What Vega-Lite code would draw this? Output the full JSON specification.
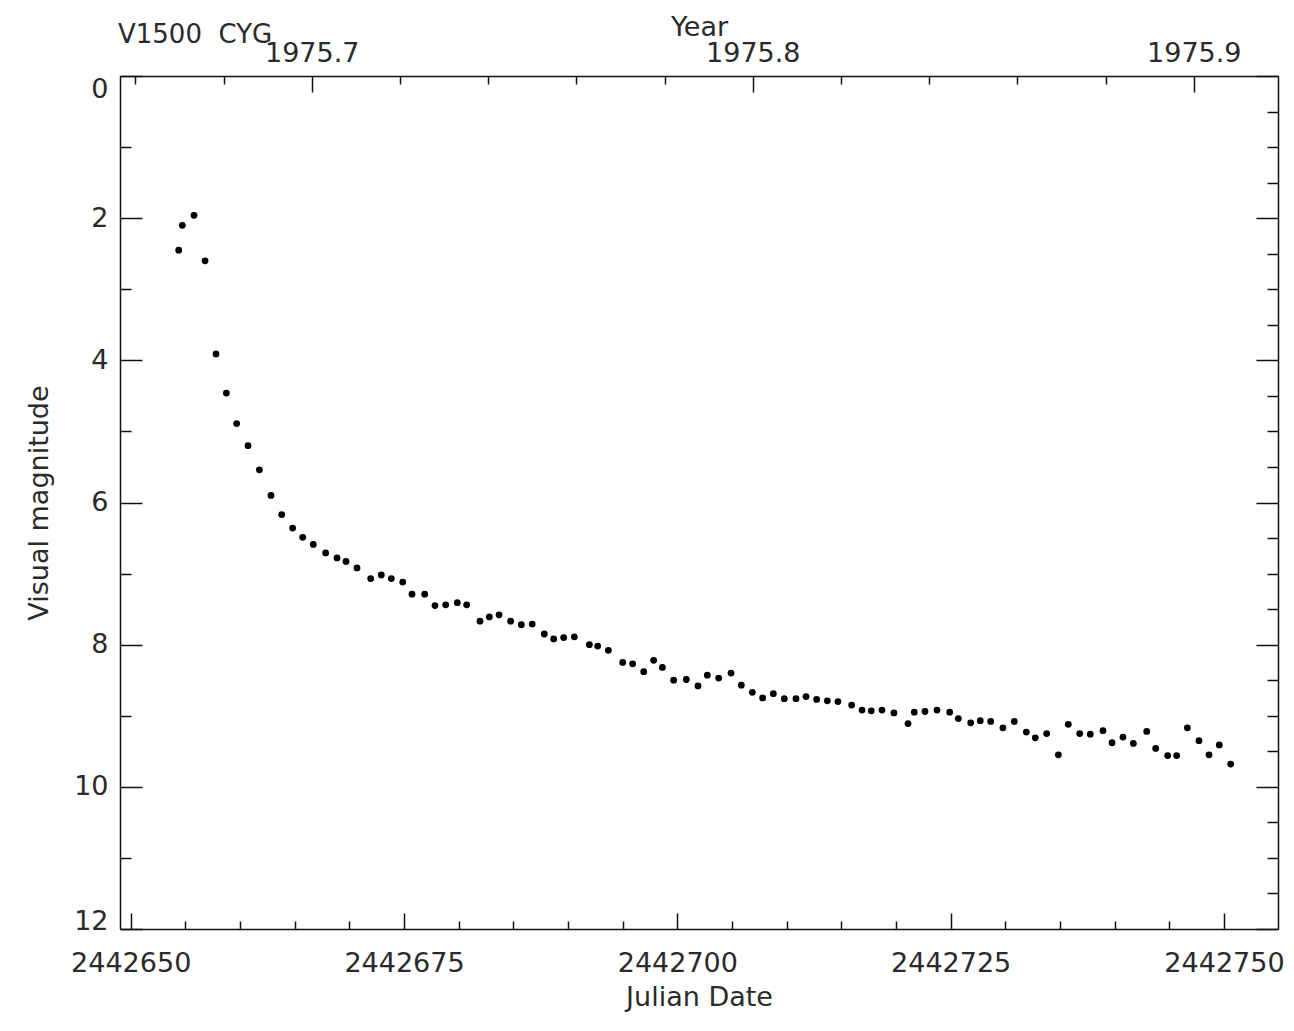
{
  "$schema": "https://vega.github.io/schema/vega-lite/v6.json",
  "width": 1158,
  "height": 853,
  "autosize": {"type": "none"},
  "padding": {"left": 120, "top": 76, "right": 16, "bottom": 102},
  "background": "white",
  "config": {
    "view": {"stroke": null},
    "axis": {
      "labelFont": "DejaVu Sans",
      "titleFont": "DejaVu Sans",
      "labelFontSize": 27,
      "titleFontSize": 27,
      "labelColor": "#2a2a2a",
      "titleColor": "#2a2a2a",
      "titleFontWeight": "normal",
      "domainColor": "#111",
      "domainWidth": 1.5,
      "tickColor": "#111",
      "tickWidth": 1.5,
      "grid": false,
      "labelOverlap": false,
      "labelFlush": false,
      "labelBound": false
    }
  },
  "title": {
    "text": "V1500\u00a0 CYG",
    "anchor": "start",
    "frame": "group",
    "font": "DejaVu Sans",
    "fontSize": 26,
    "fontWeight": "normal",
    "color": "#2a2a2a",
    "offset": -35,
    "dx": -2
  },
  "layer": [
    {
      "data": {
        "values": [
          {"jd": 2442654.39, "mag": 2.45},
          {"jd": 2442654.72, "mag": 2.10},
          {"jd": 2442655.79, "mag": 1.96},
          {"jd": 2442656.80, "mag": 2.60},
          {"jd": 2442657.80, "mag": 3.91},
          {"jd": 2442658.75, "mag": 4.46},
          {"jd": 2442659.69, "mag": 4.89},
          {"jd": 2442660.73, "mag": 5.20},
          {"jd": 2442661.77, "mag": 5.54},
          {"jd": 2442662.83, "mag": 5.90},
          {"jd": 2442663.81, "mag": 6.17},
          {"jd": 2442664.81, "mag": 6.36},
          {"jd": 2442665.73, "mag": 6.49},
          {"jd": 2442666.70, "mag": 6.59},
          {"jd": 2442667.83, "mag": 6.71},
          {"jd": 2442668.87, "mag": 6.78},
          {"jd": 2442669.69, "mag": 6.83},
          {"jd": 2442670.70, "mag": 6.92},
          {"jd": 2442671.95, "mag": 7.07},
          {"jd": 2442672.92, "mag": 7.02},
          {"jd": 2442673.84, "mag": 7.07},
          {"jd": 2442674.88, "mag": 7.12},
          {"jd": 2442675.73, "mag": 7.29},
          {"jd": 2442676.89, "mag": 7.29},
          {"jd": 2442677.83, "mag": 7.45},
          {"jd": 2442678.81, "mag": 7.44},
          {"jd": 2442679.87, "mag": 7.41},
          {"jd": 2442680.73, "mag": 7.44},
          {"jd": 2442681.95, "mag": 7.67},
          {"jd": 2442682.80, "mag": 7.61},
          {"jd": 2442683.69, "mag": 7.58},
          {"jd": 2442684.75, "mag": 7.67},
          {"jd": 2442685.73, "mag": 7.72},
          {"jd": 2442686.73, "mag": 7.71},
          {"jd": 2442687.83, "mag": 7.85},
          {"jd": 2442688.69, "mag": 7.92},
          {"jd": 2442689.60, "mag": 7.90},
          {"jd": 2442690.58, "mag": 7.89},
          {"jd": 2442691.95, "mag": 8.00},
          {"jd": 2442692.71, "mag": 8.02},
          {"jd": 2442693.69, "mag": 8.08},
          {"jd": 2442695.00, "mag": 8.25},
          {"jd": 2442695.91, "mag": 8.27},
          {"jd": 2442696.92, "mag": 8.38},
          {"jd": 2442697.83, "mag": 8.22},
          {"jd": 2442698.63, "mag": 8.32},
          {"jd": 2442699.66, "mag": 8.50},
          {"jd": 2442700.82, "mag": 8.49},
          {"jd": 2442701.89, "mag": 8.58},
          {"jd": 2442702.74, "mag": 8.43},
          {"jd": 2442703.78, "mag": 8.47},
          {"jd": 2442704.91, "mag": 8.40},
          {"jd": 2442705.85, "mag": 8.57},
          {"jd": 2442706.86, "mag": 8.67},
          {"jd": 2442707.80, "mag": 8.75},
          {"jd": 2442708.78, "mag": 8.69},
          {"jd": 2442709.78, "mag": 8.76},
          {"jd": 2442710.85, "mag": 8.76},
          {"jd": 2442711.77, "mag": 8.73},
          {"jd": 2442712.74, "mag": 8.77},
          {"jd": 2442713.72, "mag": 8.79},
          {"jd": 2442714.69, "mag": 8.80},
          {"jd": 2442715.94, "mag": 8.85},
          {"jd": 2442716.89, "mag": 8.92},
          {"jd": 2442717.74, "mag": 8.93},
          {"jd": 2442718.72, "mag": 8.92},
          {"jd": 2442719.81, "mag": 8.96},
          {"jd": 2442721.10, "mag": 9.11},
          {"jd": 2442721.67, "mag": 8.95},
          {"jd": 2442722.65, "mag": 8.94},
          {"jd": 2442723.75, "mag": 8.92},
          {"jd": 2442724.91, "mag": 8.95},
          {"jd": 2442725.70, "mag": 9.04},
          {"jd": 2442726.83, "mag": 9.10},
          {"jd": 2442727.71, "mag": 9.07},
          {"jd": 2442728.66, "mag": 9.08},
          {"jd": 2442729.78, "mag": 9.17},
          {"jd": 2442730.82, "mag": 9.08},
          {"jd": 2442731.92, "mag": 9.23},
          {"jd": 2442732.74, "mag": 9.31},
          {"jd": 2442733.78, "mag": 9.25},
          {"jd": 2442734.85, "mag": 9.55},
          {"jd": 2442735.76, "mag": 9.12},
          {"jd": 2442736.80, "mag": 9.25},
          {"jd": 2442737.77, "mag": 9.26},
          {"jd": 2442738.93, "mag": 9.21},
          {"jd": 2442739.76, "mag": 9.38},
          {"jd": 2442740.76, "mag": 9.30},
          {"jd": 2442741.71, "mag": 9.39},
          {"jd": 2442742.93, "mag": 9.22},
          {"jd": 2442743.75, "mag": 9.46},
          {"jd": 2442744.85, "mag": 9.56},
          {"jd": 2442745.67, "mag": 9.56},
          {"jd": 2442746.65, "mag": 9.17},
          {"jd": 2442747.71, "mag": 9.35},
          {"jd": 2442748.63, "mag": 9.55},
          {"jd": 2442749.57, "mag": 9.41},
          {"jd": 2442750.61, "mag": 9.68}
        ]
      },
      "mark": {"type": "point", "filled": true, "shape": "circle", "color": "#000", "size": 46, "opacity": 1},
      "encoding": {
        "x": {
          "field": "jd",
          "type": "quantitative",
          "scale": {"domain": [2442649.02, 2442754.94], "nice": false, "zero": false},
          "axis": {
            "orient": "bottom",
            "title": "Julian Date",
            "values": [2442650, 2442655, 2442660, 2442665, 2442670, 2442675, 2442680, 2442685, 2442690, 2442695, 2442700, 2442705, 2442710, 2442715, 2442720, 2442725, 2442730, 2442735, 2442740, 2442745, 2442750],
            "format": "d",
            "labelExpr": "datum.value % 25 === 0 ? datum.label : ''",
            "tickSize": {"condition": {"test": "datum.value % 25 === 0", "value": -16}, "value": -8},
            "labelPadding": 37,
            "titlePadding": 0
          }
        },
        "y": {
          "field": "mag",
          "type": "quantitative",
          "scale": {"domain": [0, 12], "reverse": true, "nice": false, "zero": false},
          "axis": {
            "orient": "left",
            "title": "Visual magnitude",
            "values": [0, 0.5, 1, 1.5, 2, 2.5, 3, 3.5, 4, 4.5, 5, 5.5, 6, 6.5, 7, 7.5, 8, 8.5, 9, 9.5, 10, 10.5, 11, 11.5, 12],
            "format": "d",
            "labelExpr": "datum.value % 2 === 0 ? datum.label : ''",
            "labelBaseline": {"expr": "datum.value === 0 ? 'top' : (datum.value === 12 ? 'alphabetic' : 'middle')"},
            "tickSize": {"condition": {"test": "datum.value % 2 === 0", "value": -22}, "value": -11},
            "labelPadding": 34,
            "titlePadding": 20
          }
        }
      }
    },
    {
      "data": {"values": [{"year": 1975.7, "mag": 0}]},
      "mark": {"type": "point", "opacity": 0},
      "encoding": {
        "x": {
          "field": "year",
          "type": "quantitative",
          "scale": {"domain": [1975.65653, 1975.91909], "nice": false, "zero": false},
          "axis": {
            "orient": "top",
            "title": "Year",
            "values": [1975.66, 1975.68, 1975.7, 1975.72, 1975.74, 1975.76, 1975.78, 1975.8, 1975.82, 1975.84, 1975.86, 1975.88, 1975.9],
            "labelExpr": "abs(datum.value * 10 - round(datum.value * 10)) < 0.001 ? format(datum.value, '.1f') : ''",
            "tickSize": {"condition": {"test": "abs(datum.value * 10 - round(datum.value * 10)) < 0.001", "value": -16}, "value": -8},
            "labelPadding": 25,
            "titlePadding": -10
          }
        },
        "y": {
          "field": "mag",
          "type": "quantitative",
          "scale": {"domain": [0, 12], "reverse": true, "nice": false, "zero": false},
          "axis": {
            "orient": "right",
            "title": null,
            "labels": false,
            "values": [0, 0.5, 1, 1.5, 2, 2.5, 3, 3.5, 4, 4.5, 5, 5.5, 6, 6.5, 7, 7.5, 8, 8.5, 9, 9.5, 10, 10.5, 11, 11.5, 12],
            "tickSize": {"condition": {"test": "datum.value % 2 === 0", "value": -22}, "value": -11}
          }
        }
      }
    }
  ],
  "resolve": {
    "scale": {"x": "independent"},
    "axis": {"x": "independent", "y": "independent"}
  }
}
